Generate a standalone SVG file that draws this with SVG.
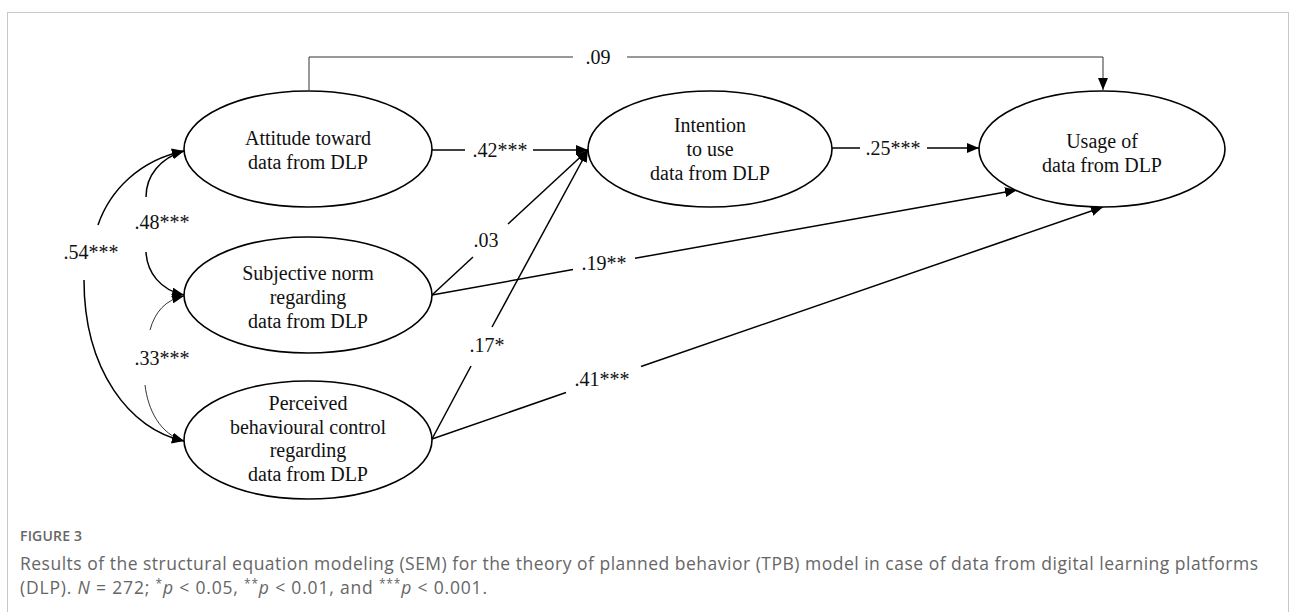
<svg xmlns="http://www.w3.org/2000/svg" width="1293" height="612" viewBox="0 0 1293 612">
<style>
.node ellipse{fill:#fff;stroke:#000;stroke-width:1.6}
.nt{font-family:"Liberation Serif","Times New Roman",serif;font-size:20px;fill:#111;text-anchor:middle}
.lbl{font-family:"Liberation Serif","Times New Roman",serif;font-size:20px;fill:#111;text-anchor:middle}
.c{fill:none;stroke:#000;stroke-width:1.5}
.thin{fill:none;stroke:#000;stroke-width:0.8}
.grey{fill:none;stroke:#333;stroke-width:1}
.cap{font-family:"Open Sans","Liberation Sans",sans-serif;fill:#666}
</style>
<defs>
<marker id="ah" markerWidth="12" markerHeight="10" refX="12" refY="5" orient="auto" markerUnits="userSpaceOnUse">
<path d="M0,0 L12,5 L0,10 Z" fill="#000"/>
</marker>
</defs>
<rect x="7.5" y="12.5" width="1281" height="640" fill="#fff" stroke="#c8c8c8" stroke-width="1"/>
<g id="connectors">
<path class="grey" d="M309,90 V57 H573"/>
<path class="grey" d="M627,57 H1103 V90" marker-end="url(#ah)"/>
<path class="c" d="M432,150 H465"/>
<path class="c" d="M533,150 H588" marker-end="url(#ah)"/>
<path class="c" d="M832,148 H860"/>
<path class="c" d="M927,148 H979" marker-end="url(#ah)"/>
<path class="c" d="M432,295 L473,257"/>
<path class="c" d="M508,224 L588,150" marker-end="url(#ah)"/>
<path class="c" d="M432,439 L471,366"/>
<path class="c" d="M492,327 L588,150" marker-end="url(#ah)"/>
<path class="c" d="M432,295 L573,269.5"/>
<path class="c" d="M635,258.3 L1017,190" marker-end="url(#ah)"/>
<path class="c" d="M432,439 L566,392.5"/>
<path class="c" d="M641,366.5 L1103,207" marker-end="url(#ah)"/>
<path class="c" d="M146,197 C146,176 160,158 184,151" marker-end="url(#ah)"/>
<path class="c" d="M146,252 C147,272 160,290 184,295" marker-end="url(#ah)"/>
<path class="c" d="M98,225 C110,190 140,160 184,151" marker-end="url(#ah)"/>
<path class="c" d="M84,280 C84,370 130,430 184,441" marker-end="url(#ah)"/>
<path class="thin" d="M150,330 C155,312 165,300 184,296" marker-end="url(#ah)"/>
<path class="thin" d="M145,385 C148,410 160,434 184,441" marker-end="url(#ah)"/>
<text class="lbl" x="598" y="64">.09</text>
<text class="lbl" x="500" y="157">.42***</text>
<text class="lbl" x="893" y="155">.25***</text>
<text class="lbl" x="486" y="247">.03</text>
<text class="lbl" x="604" y="270">.19**</text>
<text class="lbl" x="487" y="352">.17*</text>
<text class="lbl" x="602" y="386">.41***</text>
<text class="lbl" x="162" y="229">.48***</text>
<text class="lbl" x="91" y="259">.54***</text>
<text class="lbl" x="162" y="365">.33***</text>
</g>
<g id="attitude" class="node">
<ellipse cx="308" cy="149" rx="124" ry="58"/>
<text class="nt" x="308" y="145">Attitude toward</text>
<text class="nt" x="308" y="169">data from DLP</text>
</g>
<g id="subjective" class="node">
<ellipse cx="308" cy="295" rx="124" ry="58"/>
<text class="nt" x="308" y="280">Subjective norm</text>
<text class="nt" x="308" y="304">regarding</text>
<text class="nt" x="308" y="328">data from DLP</text>
</g>
<g id="perceived" class="node">
<ellipse cx="308" cy="440" rx="124" ry="59"/>
<text class="nt" x="308" y="410">Perceived</text>
<text class="nt" x="308" y="434">behavioural control</text>
<text class="nt" x="308" y="457">regarding</text>
<text class="nt" x="308" y="481">data from DLP</text>
</g>
<g id="intention" class="node">
<ellipse cx="710" cy="149" rx="122" ry="58"/>
<text class="nt" x="710" y="132">Intention</text>
<text class="nt" x="710" y="156">to use</text>
<text class="nt" x="710" y="180">data from DLP</text>
</g>
<g id="usage" class="node">
<ellipse cx="1102" cy="149" rx="123" ry="58"/>
<text class="nt" x="1102" y="148">Usage of</text>
<text class="nt" x="1102" y="172">data from DLP</text>
</g>
<g id="caption">
<text class="cap" x="20" y="541" font-size="14" font-weight="600" fill="#555" textLength="62" lengthAdjust="spacing">FIGURE 3</text>
<text class="cap" x="20" y="570" font-size="17.5" textLength="1238" lengthAdjust="spacing">Results of the structural equation modeling (SEM) for the theory of planned behavior (TPB) model in case of data from digital learning platforms</text>
<text class="cap" x="20" y="594" font-size="17.5" textLength="467" lengthAdjust="spacing">(DLP). <tspan font-style="italic">N</tspan> = 272; <tspan font-size="12" dy="-6">*</tspan><tspan font-style="italic" dy="6">p</tspan> &lt; 0.05, <tspan font-size="12" dy="-6">**</tspan><tspan font-style="italic" dy="6">p</tspan> &lt; 0.01, and <tspan font-size="12" dy="-6">***</tspan><tspan font-style="italic" dy="6">p</tspan> &lt; 0.001.</text>
</g>
</svg>
